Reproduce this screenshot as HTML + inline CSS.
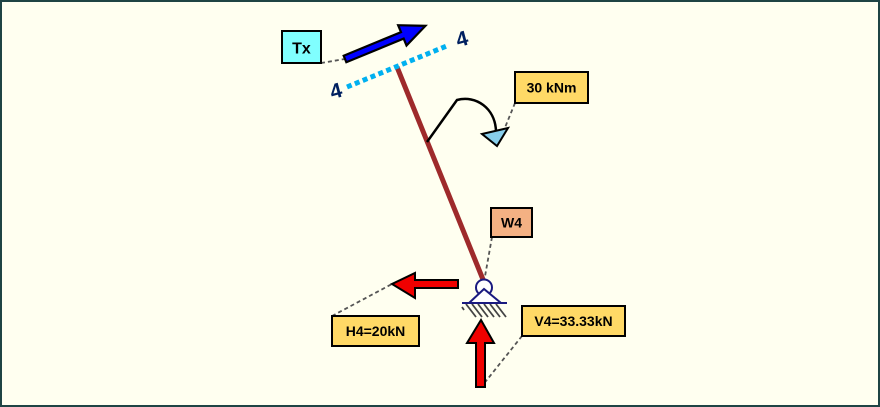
<!DOCTYPE html>
<html><head><meta charset="utf-8"><style>
html,body{margin:0;padding:0;background:#fffff0;}
svg{display:block;}
text{font-family:"Liberation Sans",sans-serif;font-weight:bold;}
</style></head><body>
<svg width="880" height="407" viewBox="0 0 880 407" xmlns="http://www.w3.org/2000/svg">
<rect x="1" y="1" width="878" height="405" fill="#fffff0" stroke="#1f4444" stroke-width="2"/>

<!-- leaders -->
<g stroke="#555" stroke-width="1.8" stroke-dasharray="4 3" fill="none">
<line x1="321" y1="63" x2="345" y2="59"/>
<line x1="515" y1="103" x2="504" y2="130"/>
<line x1="492" y1="237" x2="484" y2="282"/>
<line x1="332" y1="316" x2="392" y2="284"/>
<line x1="522" y1="336" x2="482" y2="386"/>
</g>

<!-- member -->
<line x1="397" y1="67" x2="484" y2="282" stroke="#9e2a2b" stroke-width="5"/>

<!-- dotted section line -->
<line x1="347" y1="87" x2="449" y2="45" stroke="#00b0f0" stroke-width="5" stroke-dasharray="5 3.5"/>
<text x="336" y="98" font-size="21" fill="#002060" text-anchor="middle" transform="rotate(-15 336 91)">4</text>
<text x="462" y="46" font-size="21" fill="#002060" text-anchor="middle" transform="rotate(-15 462 39)">4</text>

<!-- Tx arrow -->
<g transform="translate(345,59) rotate(-22.4)">
<polygon points="0,-3.5 62,-3.5 62,-11 87,0 62,11 62,3.5 0,3.5" fill="#0000ff" stroke="#000" stroke-width="2.2" stroke-linejoin="miter"/>
</g>

<!-- moment -->
<path d="M427,142 L457,100 C476,95 495,108 496,131" fill="none" stroke="#000" stroke-width="2.5"/>
<polygon points="482,134 508,128 497,146" fill="#87ceeb" stroke="#000" stroke-width="2"/>

<!-- H4 arrow -->
<polygon points="458,280 415,280 415,273 392,284 415,298 415,288 458,288" fill="#f00000" stroke="#000" stroke-width="2"/>
<!-- V4 arrow -->
<polygon points="476,387 476,343 467,343 481,320 494,343 485,343 485,387" fill="#f00000" stroke="#000" stroke-width="2"/>

<!-- support -->
<g stroke="#444" stroke-width="1.8">
<line x1="462" y1="307" x2="464" y2="310"/>
<line x1="466" y1="304" x2="476" y2="317"/>
<line x1="472" y1="304" x2="482" y2="317"/>
<line x1="478" y1="304" x2="488" y2="317"/>
<line x1="484" y1="304" x2="494" y2="317"/>
<line x1="490" y1="304" x2="500" y2="317"/>
<line x1="496" y1="304" x2="506" y2="317"/>
</g>
<circle cx="484" cy="287.5" r="8" fill="#fff" stroke="#1a1a80" stroke-width="2"/>
<polygon points="469,303 484,289 501,303" fill="#fff" stroke="#1a1a80" stroke-width="2"/>
<line x1="462" y1="303" x2="507" y2="303" stroke="#1a1a80" stroke-width="2"/>

<!-- boxes -->
<rect x="282" y="31" width="39" height="32" fill="#80ffff" stroke="#000" stroke-width="2"/>
<text x="301.5" y="53.5" font-size="16" text-anchor="middle">Tx</text>

<rect x="515" y="72" width="73" height="31" fill="#ffd966" stroke="#000" stroke-width="2"/>
<text x="551.5" y="92.5" font-size="14" text-anchor="middle">30 kNm</text>

<rect x="491" y="208" width="41" height="29" fill="#f4b183" stroke="#000" stroke-width="2"/>
<text x="511.5" y="227.5" font-size="14" text-anchor="middle">W4</text>

<rect x="332" y="316" width="87" height="30" fill="#ffd966" stroke="#000" stroke-width="2"/>
<text x="375.5" y="336" font-size="14" text-anchor="middle">H4=20kN</text>

<rect x="522" y="306" width="103" height="30" fill="#ffd966" stroke="#000" stroke-width="2"/>
<text x="573.5" y="326" font-size="14" text-anchor="middle">V4=33.33kN</text>
</svg>
</body></html>
